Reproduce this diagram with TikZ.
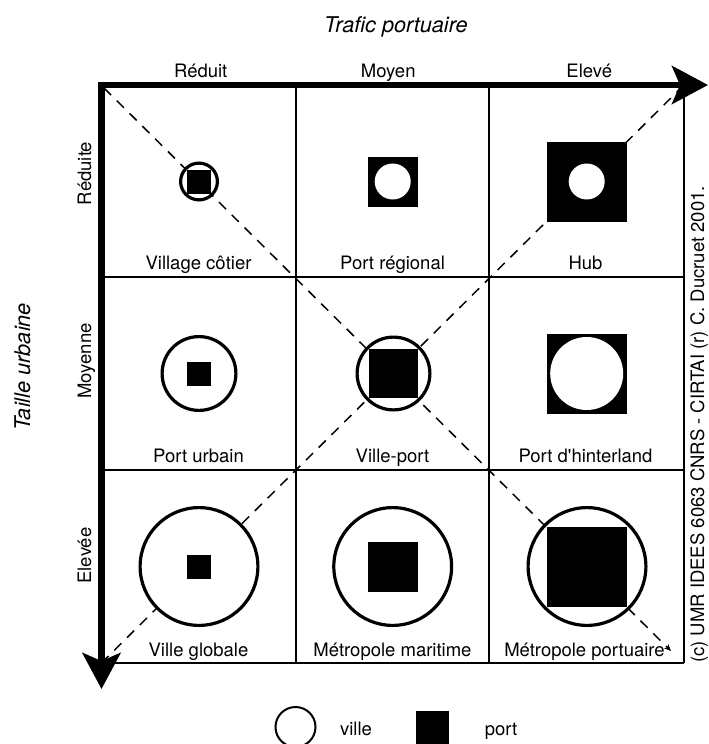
\documentclass[tikz,border=0pt]{standalone}
\usepackage{fontspec}
\setmainfont{TeX Gyre Heros}
\usetikzlibrary{arrows.meta}
\begin{document}
\begin{tikzpicture}[x=1pt,y=-1pt,
  lbl/.style={font=\fontsize{18.5}{22}\selectfont, inner sep=0pt, anchor=base},
  ttl/.style={font=\fontsize{21.7}{26}\selectfont\itshape, inner sep=0pt, anchor=base},
  gridline/.style={line width=1.8pt},
  axisline/.style={line width=6.5pt, line cap=rect, -{Stealth[length=36pt,width=38pt,inset=8pt]}},
  diag/.style={line width=1.5pt, dash pattern=on 10pt off 8pt},
  ring/.style={circle, draw, line width=3.2pt, fill=white, inner sep=0pt, minimum size=#1},
  blk/.style={rectangle, fill=black, inner sep=0pt, minimum size=#1},
  hole/.style={circle, fill=white, inner sep=0pt, minimum size=#1},
]
\useasboundingbox (0,0) rectangle (709,744);
% grid corners
\coordinate (TL) at (101.5,85);
\coordinate (TR) at (684,85);
\coordinate (BL) at (101.5,663);
\coordinate (BR) at (684,663);
\coordinate (C1t) at (296,85);   \coordinate (C1b) at (296,663);
\coordinate (C2t) at (489,85);   \coordinate (C2b) at (489,663);
\coordinate (R1l) at (101.5,277); \coordinate (R1r) at (684,277);
\coordinate (R2l) at (101.5,470); \coordinate (R2r) at (684,470);
\coordinate (Xtip) at (708,85);
\coordinate (Ytip) at (101.5,689);
\coordinate (D1s) at (104,88);
\coordinate (D1e) at (671,651);
\coordinate (D2s) at (101.5,663);
\coordinate (D2e) at (679,90);

% dashed diagonals
\draw[diag, -{Stealth[length=7pt,width=6pt]}] (D1s) -- (D1e);
\draw[diag] (D2s) -- (D2e);

% grid
\draw[gridline] (C1t) -- (C1b);
\draw[gridline] (C2t) -- (C2b);
\draw[gridline] (R1l) -- (R1r);
\draw[gridline] (R2l) -- (R2r);
\draw[gridline] (TR) -- (BR);
\draw[gridline] (BL) -- (BR);

% row 1
\node[ring=36.8pt] (s11c) at (199,181.5) {};
\node[blk=24pt] (s11p) at (199,181.5) {};
\node[blk=50pt] (s12p) at (392.7,181.5) {};
\node[hole=36pt] (s12c) at (392.7,181.5) {};
\node[blk=80pt] (s13p) at (586.7,181.5) {};
\node[hole=36pt] (s13c) at (586.7,181.5) {};
% row 2
\node[ring=73.8pt] (s21c) at (199,373.5) {};
\node[blk=24pt] (s21p) at (199,373.5) {};
\node[ring=72.8pt] (s22c) at (393.5,373.5) {};
\node[blk=49pt] (s22p) at (393.5,373.5) {};
\node[blk=80pt] (s23p) at (586.7,373.5) {};
\node[hole=73pt] (s23c) at (586.7,373.5) {};
% row 3
\node[ring=117.8pt] (s31c) at (199,566.5) {};
\node[blk=24pt] (s31p) at (199,566.5) {};
\node[ring=117.8pt] (s32c) at (392.7,566.5) {};
\node[blk=50pt] (s32p) at (392.7,566.5) {};
\node[ring=117.8pt] (s33c) at (587,566.5) {};
\node[blk=80pt] (s33p) at (587,566.5) {};

% cell labels
\node[lbl] (l11) at (198.5,269.5) {Village côtier};
\node[lbl] (l12) at (392.5,269.5) {Port régional};
\node[lbl] (l13) at (585.5,269.5) {Hub};
\node[lbl] (l21) at (198.5,462.5) {Port urbain};
\node[lbl] (l22) at (392.5,462.5) {Ville-port};
\node[lbl] (l23) at (585.5,462.5) {Port d\textquotesingle hinterland};
\node[lbl] (l31) at (198.5,656) {Ville globale};
\node[lbl] (l32) at (392.5,656) {Métropole maritime};
\node[lbl] (l33) at (584.5,656) {Métropole portuaire};

% axes
\draw[axisline] (TL) -- (Xtip);
\draw[axisline] (TL) -- (Ytip);

% axis labels
\node[ttl] (tx) at (396,32.5) {Trafic portuaire};
\node[lbl] (cx1) at (200.7,77) {Réduit};
\node[lbl] (cx2) at (388.2,77) {Moyen};
\node[lbl] (cx3) at (589.3,77) {Elevé};
\node[ttl, rotate=90] (ty) at (30,367) {Taille urbaine};
\node[lbl, rotate=90] (ry1) at (91,173.5) {Réduite};
\node[lbl, rotate=90] (ry2) at (91,361) {Moyenne};
\node[lbl, rotate=90] (ry3) at (91,555.5) {Elevée};

% copyright
\node[lbl, rotate=90] (copy) at (704,424.5) {(c) UMR IDEES 6063 CNRS - CIRTAI (r) C. Ducruet 2001.};

% legend
\node[circle, draw, line width=2pt, inner sep=0pt, minimum size=40pt] (legc) at (295.5,727) {};
\node[lbl] (legct) at (356,735) {ville};
\node[blk=33pt] (legp) at (432.5,727.5) {};
\node[lbl] (legpt) at (501,735) {port};
\end{tikzpicture}
\end{document}
